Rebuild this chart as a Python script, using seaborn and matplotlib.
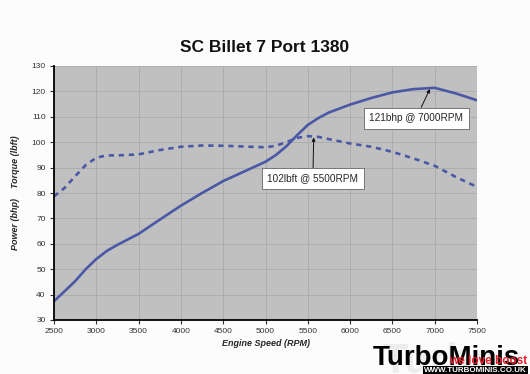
import matplotlib
matplotlib.use("Agg")
import matplotlib.pyplot as plt
import seaborn as sns
import pandas as pd

rpm = [2500, 2625, 2750, 2875, 3000, 3125, 3250, 3500, 3750, 4000, 4250, 4500, 4750,
       5000, 5125, 5250, 5375, 5500, 5625, 5750, 6000, 6250, 6500, 6750, 7000, 7250, 7500]
power = [37.4, 41.3, 45.3, 50.0, 54.0, 57.2, 59.6, 63.9, 69.5, 75.0, 80.0, 84.7, 88.5,
         92.3, 95.0, 98.5, 102.8, 106.8, 109.5, 111.7, 114.8, 117.4, 119.6, 120.9, 121.4,
         119.2, 116.5]
torque = [78.7, 82.0, 86.6, 91.0, 93.9, 94.8, 94.8, 95.2, 96.9, 98.2, 98.7, 98.6, 98.3,
          98.0, 98.6, 100.1, 101.7, 102.4, 102.1, 101.2, 99.5, 98.2, 96.2, 93.6, 90.7,
          86.3, 82.4]

title = "SC Billet 7 Port 1380"
xlabel = "Engine Speed (RPM)"
ylabel = "Power (bhp)    Torque (lbft)"
ann_power = "121bhp @ 7000RPM"
ann_torque = "102lbft @ 5500RPM"

df = pd.DataFrame({"rpm": rpm, "power": power, "torque": torque})

sns.set_theme(style="white")
plt.rcParams['font.family'] = ['Liberation Sans', 'DejaVu Sans']

fig = plt.figure(figsize=(5.3, 3.74), dpi=100)
fig.patch.set_facecolor("#fcfcfc")
ax = fig.add_axes([54/530, 1-320/374, 423/530, 254/374])
ax.set_facecolor("#c0c0c0")

line_col = "#4a58a6"
sns.lineplot(data=df, x="rpm", y="power", ax=ax, color=line_col, linewidth=1.9)
sns.lineplot(data=df, x="rpm", y="torque", ax=ax, color=line_col, linewidth=1.9,
             linestyle=(0, (2.0, 1.8)))

ax.set_xlim(2500, 7500)
ax.set_ylim(30, 130)
ax.set_xticks(range(2500, 7501, 500))
ax.set_yticks(range(30, 131, 10))
ax.grid(True, color="#adadad", linewidth=0.7)
ax.set_axisbelow(True)
for s in ["top", "right"]:
    ax.spines[s].set_visible(False)
for s in ["left", "bottom"]:
    ax.spines[s].set_color("black")
    ax.spines[s].set_linewidth(1.3)
ax.tick_params(axis="both", labelsize=6, colors="#333333", length=3, width=0.8,
               direction="out", pad=3, left=True, bottom=True)
ax.set_xlabel(xlabel, fontsize=6.5, fontweight="bold", style="italic", labelpad=3)
ax.set_ylabel(ylabel, fontsize=6.5, fontweight="bold", style="italic", labelpad=8)
fig.text(265/530, 1-48/374, title, ha="center", va="center", fontsize=12.5,
         fontweight="bold", color="#111111")

bbox = dict(boxstyle="square,pad=0.55", fc="white", ec="#666666", lw=0.6)
ax.annotate(ann_power, xy=(6950, 121.4), xytext=(6780, 109.5), fontsize=7.2,
            ha="center", va="center", bbox=bbox,
            arrowprops=dict(arrowstyle="-|>", color="#111111", lw=0.7,
                            mutation_scale=5, shrinkA=0, shrinkB=1))
ax.annotate(ann_torque, xy=(5570, 102.4), xytext=(5560, 85.7), fontsize=7.2,
            ha="center", va="center", bbox=bbox,
            arrowprops=dict(arrowstyle="-|>", color="#111111", lw=0.7,
                            mutation_scale=5, shrinkA=0, shrinkB=1))

# watermark
fig.text(440/530, 1-362/374, "Turbo", fontsize=30, fontweight="bold",
         color="#ececec", ha="center", va="center", zorder=0)
fig.text(373/530, 1-358/374, "TurboMinis", fontsize=20, fontweight="bold",
         color="black", ha="left", va="center", zorder=1)
fig.text(449/530, 1-361/374, "we love boost", fontsize=8.5, fontweight="bold",
         color="#e8202a", ha="left", va="center", zorder=2)
fig.text(527/530, 1-370/374, "WWW.TURBOMINIS.CO.UK", fontsize=5.8, fontweight="bold",
         color="white", ha="right", va="center", zorder=3,
         bbox=dict(boxstyle="square,pad=0.1", fc="black", ec="none"))

fig.savefig("out.png", dpi=100, facecolor=fig.get_facecolor())
